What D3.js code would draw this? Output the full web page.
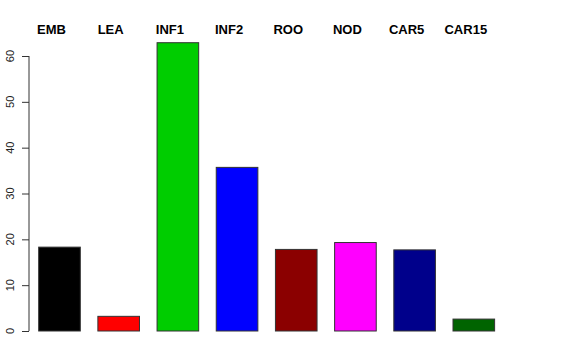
<!DOCTYPE html>
<html>
<head>
<meta charset="utf-8">
<script src="https://cdn.jsdelivr.net/npm/d3@7"></script>
<style>
  body { margin: 0; background: #fff; }
  text { font-family: "Liberation Sans", Arial, sans-serif; }
</style>
</head>
<body>
<script>
// chart data
var categories = ["EMB", "LEA", "INF1", "INF2", "ROO", "NOD", "CAR5", "CAR15"];
var values = [18.3, 3.2, 62.9, 35.7, 17.8, 19.3, 17.7, 2.6];
var barColors = ["#000000", "#ff0000", "#00cd00", "#0000ff", "#8b0000", "#ff00ff", "#00008b", "#006400"];
var yTicks = [0, 10, 20, 30, 40, 50, 60];

var w = 576, h = 360;

var svg = d3.select("body").append("svg")
    .attr("width", w)
    .attr("height", h);

var x = d3.scaleBand()
    .domain(categories)
    .range([29.9, 503.4])
    .paddingInner(0.297)
    .paddingOuter(0.1485);

var y = d3.scaleLinear()
    .domain([0, 60])
    .range([331, 56]);

// bars
svg.selectAll("rect.bar")
    .data(values)
    .enter()
    .append("rect")
    .attr("class", "bar")
    .attr("x", function(d, i) { return x(categories[i]); })
    .attr("y", function(d) { return y(d); })
    .attr("width", x.bandwidth())
    .attr("height", function(d) { return y(0) - y(d); })
    .attr("fill", function(d, i) { return barColors[i]; })
    .attr("stroke", "#333")
    .attr("stroke-width", 1);

// y axis, R style (rotated labels)
var axis = svg.append("g")
    .attr("transform", "translate(29,0)")
    .call(d3.axisLeft(y).tickValues(yTicks).tickSize(7).tickPadding(0).tickFormat(d3.format("d")));
axis.select(".domain")
    .attr("d", "M0," + y(0) + "V" + y(60))
    .attr("stroke", "#333");
axis.selectAll(".tick line").attr("stroke", "#333");
axis.selectAll(".tick text").remove();

svg.selectAll("text.ytick")
    .data(yTicks)
    .enter()
    .append("text")
    .attr("class", "ytick")
    .attr("transform", function(d) { return "translate(14," + y(d) + ") rotate(-90)"; })
    .attr("text-anchor", "middle")
    .attr("font-size", "11px")
    .attr("fill", "#222")
    .text(function(d) { return d; });

// category labels along the top
svg.selectAll("text.cat")
    .data(categories)
    .enter()
    .append("text")
    .attr("class", "cat")
    .attr("x", function(d) { return x(d) + x.bandwidth() / 2 - 8; })
    .attr("y", 34)
    .attr("text-anchor", "middle")
    .attr("font-size", "13px")
    .attr("font-weight", "bold")
    .text(function(d) { return d; });
</script>
</body>
</html>
